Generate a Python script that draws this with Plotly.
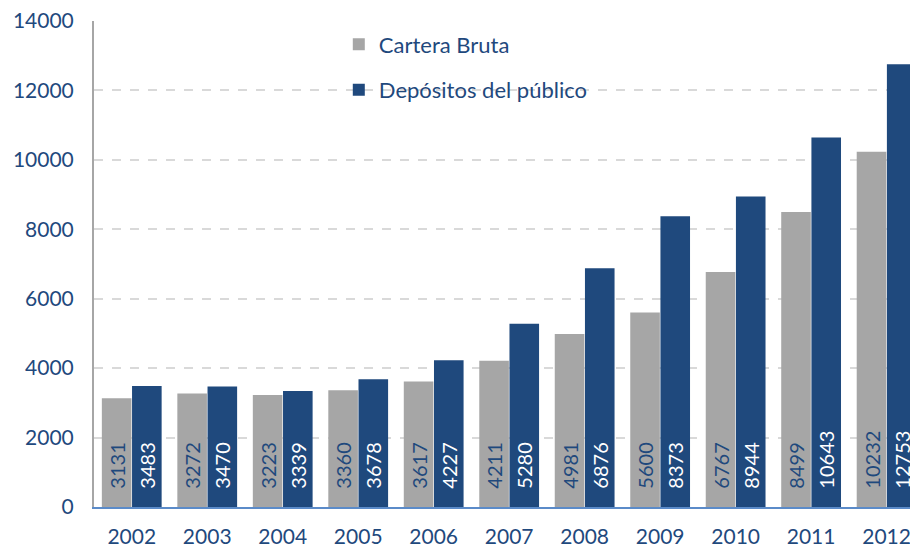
import plotly.graph_objects as go

years = ["2002", "2003", "2004", "2005", "2006", "2007", "2008", "2009", "2010", "2011", "2012"]
cartera_bruta = [3131, 3272, 3223, 3360, 3617, 4211, 4981, 5600, 6767, 8499, 10232]
depositos = [3483, 3470, 3339, 3678, 4227, 5280, 6876, 8373, 8944, 10643, 12753]

FONT = "Lato, Calibri, Carlito, sans-serif"
DARK = "#1F497D"
GRAY = "#A6A6A6"
BLUE = "#1F497D"
PAD = "\u00a0\u00a0\u00a0"

fig = go.Figure()
fig.add_trace(go.Bar(
    x=years, y=cartera_bruta, name="Cartera Bruta",
    marker=dict(color=GRAY, line=dict(width=0)),
    text=[PAD + str(v) for v in cartera_bruta], textposition="inside",
    insidetextanchor="start", textangle=-90,
    textfont=dict(color=DARK, size=20, family=FONT),
    legendgroup="a",
))
fig.add_trace(go.Bar(
    x=years, y=depositos, name="Depósitos del público",
    marker=dict(color=BLUE, line=dict(width=0)),
    text=[PAD + str(v) for v in depositos], textposition="inside",
    insidetextanchor="start", textangle=-90,
    textfont=dict(color="white", size=20, family=FONT),
    legendgroup="b",
))

fig.update_layout(
    width=910, height=548,
    margin=dict(l=94, r=0, t=21, b=41),
    paper_bgcolor="white", plot_bgcolor="white",
    barmode="group", bargap=0.2, bargroupgap=0.02,
    uniformtext=dict(minsize=20, mode="show"),
    font=dict(family=FONT, color=DARK, size=20),
    legend=dict(x=0.30, y=0.995, xanchor="left", yanchor="top",
                font=dict(size=22, color=DARK, family=FONT),
                bgcolor="rgba(0,0,0,0)", tracegroupgap=14,
                itemwidth=30),
    xaxis=dict(range=[-0.5, 10.31], showgrid=False, showline=True,
               linecolor="#5B8BC9", linewidth=2, ticks="",
               automargin=False, ticklabelstandoff=10,
               ticklabeloverflow="allow",
               tickfont=dict(size=21, color=DARK, family=FONT)),
    yaxis=dict(range=[0, 14000], dtick=2000, tickformat="d", showgrid=True,
               gridcolor="#D9D9D9", gridwidth=2, griddash="dash",
               showline=True, linecolor="#A6A6A6", linewidth=2,
               zeroline=False, ticks="", ticklabelstandoff=14,
               automargin=False, ticklabeloverflow="allow",
               tickfont=dict(size=21, color=DARK, family=FONT)),
)

fig.write_html(
    "out.html",
    config={"displayModeBar": False},
    post_script="document.body.style.margin='0';document.body.style.overflow='hidden';",
)
